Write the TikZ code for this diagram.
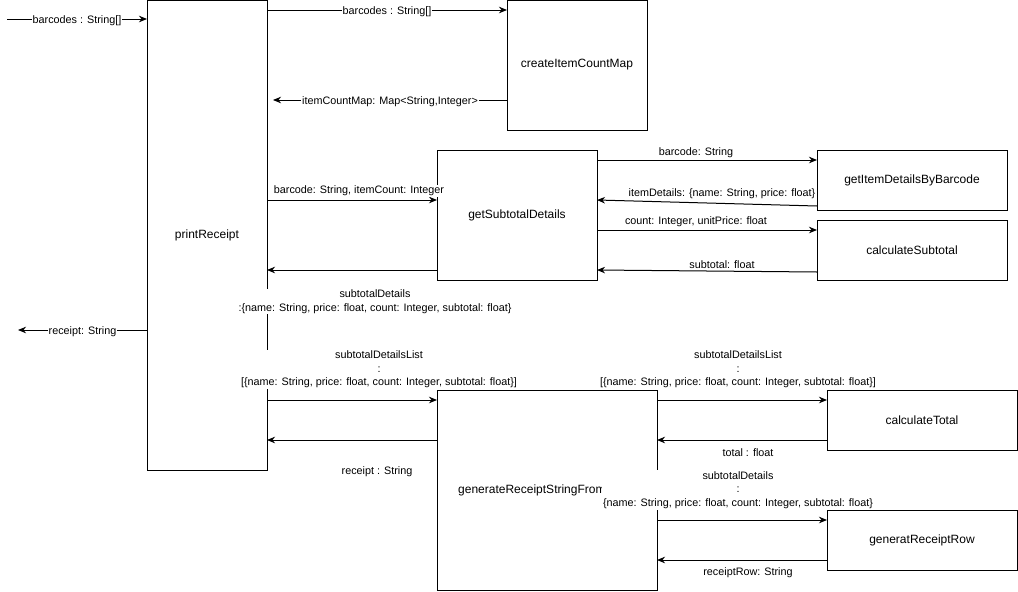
\documentclass[tikz,border=0pt]{standalone}
\usepackage{fontspec}
\setmainfont{Liberation Sans}
\usetikzlibrary{calc,arrows.meta}

\begin{document}
\begin{tikzpicture}[x=1pt,y=-1pt,
  fnbox/.style={draw,line width=1pt,rectangle,inner sep=0pt,outer sep=0pt,
    font=\fontsize{12}{14}\selectfont,align=center},
  flow/.style={line width=1pt,-{Stealth[length=8pt,width=6.5pt,inset=2.5pt]}},
  lbl/.style={fill=white,inner sep=1pt,yshift=-1.5pt,
    font=\fontsize{10.8}{13.5}\selectfont,align=center}]

\useasboundingbox (0,0) rectangle (1018,592);

% functions
\node[fnbox,minimum width=120pt,minimum height=470pt] (pr)   at (207,235) {printReceipt};
\node[fnbox,minimum width=140pt,minimum height=130pt] (cic)  at (577,65)  {createItemCountMap};
\node[fnbox,minimum width=160pt,minimum height=130pt] (gsd)  at (517,215) {getSubtotalDetails};
\node[fnbox,minimum width=190pt,minimum height=60pt]  (gid)  at (912,180) {getItemDetailsByBarcode};
\node[fnbox,minimum width=190pt,minimum height=60pt]  (cst)  at (912,250) {calculateSubtotal};
\node[fnbox,minimum width=220pt,minimum height=200pt] (grs)  at (547,490) {};
\node[font=\fontsize{12}{14}\selectfont,inner sep=0pt,anchor=west] (grsname)
  at ($(grs.west)+(21,0)$) {generateReceiptStringFrom};
\node[fnbox,minimum width=190pt,minimum height=60pt]  (ctot) at (922,420) {calculateTotal};
\node[fnbox,minimum width=190pt,minimum height=60pt]  (grr)  at (922,540) {generatReceiptRow};

\coordinate (in0)  at (7,19);
\coordinate (out0) at (18,330);

% input / output of printReceipt
\draw[flow] (in0) -- node[lbl] {barcodes : String[]} ($(pr.north west)+(0,19)$);
\draw[flow] ($(pr.north west)+(0,330)$) -- node[lbl] {receipt: String} (out0);

% createItemCountMap
\draw[flow] ($(pr.north east)+(0,10)$) -- node[lbl] {barcodes : String[]} ($(cic.north west)+(0,10)$);
\draw[flow] ($(cic.north west)+(0,100)$) -- node[lbl] {itemCountMap: Map<String,Integer>} ($(pr.north east)+(6,100)$);

% getSubtotalDetails
\draw[flow] ($(pr.north east)+(0,200)$) --
  node[lbl,anchor=south,xshift=7pt,yshift=4pt] {barcode: String, itemCount: Integer}
  ($(gsd.north west)+(0,50)$);
\draw[flow] ($(gsd.north west)+(0,120)$) --
  node[lbl,xshift=23pt,yshift=-30pt] {subtotalDetails\\:\{name: String, price: float, count: Integer, subtotal: float\}}
  ($(pr.north east)+(0,270)$);

\draw[flow] ($(gsd.north east)+(0,10)$) --
  node[lbl,xshift=-11pt,yshift=9pt] {barcode: String}
  ($(gid.north west)+(0,10)$);
\draw[flow] ($(gid.north west)+(0,56)$) --
  node[lbl,xshift=15pt,yshift=11pt] {itemDetails: \{name: String, price: float\}}
  ($(gsd.north east)+(0,50)$);
\draw[flow] ($(gsd.north east)+(0,80)$) --
  node[lbl,xshift=-11pt,yshift=10pt] {count: Integer, unitPrice: float}
  ($(cst.north west)+(0,10)$);
\draw[flow] ($(cst.north west)+(0,52)$) --
  node[lbl,xshift=15pt,yshift=8pt] {subtotal: float}
  ($(gsd.north east)+(0,120)$);

% generateReceiptStringFrom
\draw[flow] ($(pr.north east)+(0,400)$) --
  node[lbl,xshift=27pt,yshift=32pt] {subtotalDetailsList\\:\\{}[\{name: String, price: float, count: Integer, subtotal: float\}]}
  ($(grs.north west)+(0,10)$);
\draw[flow] ($(grs.north west)+(0,50)$) --
  node[lbl,xshift=25pt,yshift=-30pt] {receipt : String}
  ($(pr.north east)+(0,440)$);

\draw[flow] ($(grs.north east)+(0,10)$) --
  node[lbl,xshift=-4pt,yshift=32pt] {subtotalDetailsList\\:\\{}[\{name: String, price: float, count: Integer, subtotal: float\}]}
  ($(ctot.north west)+(0,10)$);
\draw[flow] ($(ctot.north west)+(0,50)$) --
  node[lbl,xshift=6pt,yshift=-11pt] {total : float}
  ($(grs.north east)+(0,50)$);

\draw[flow] ($(grs.north east)+(0,130)$) --
  node[lbl,xshift=-4pt,yshift=31.5pt] {subtotalDetails\\:\\\{name: String, price: float, count: Integer, subtotal: float\}}
  ($(grr.north west)+(0,10)$);
\draw[flow] ($(grr.north west)+(0,50)$) --
  node[lbl,xshift=6pt,yshift=-11pt] {receiptRow: String}
  ($(grs.north east)+(0,170)$);

\end{tikzpicture}
\end{document}
